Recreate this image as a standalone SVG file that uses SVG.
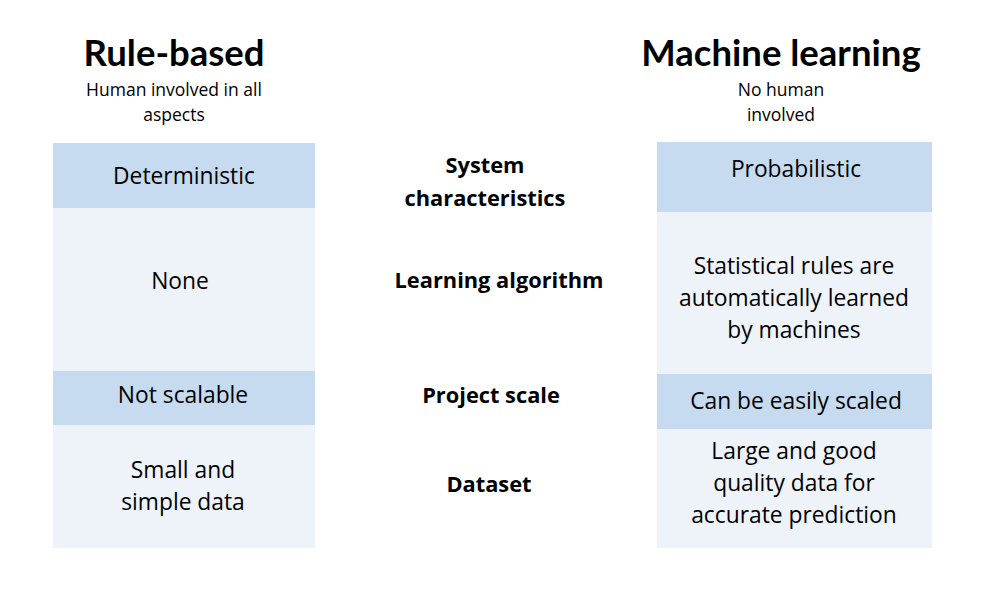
<svg xmlns="http://www.w3.org/2000/svg" width="988" height="598" viewBox="0 0 988 598">
<style>
text{font-family:"Open Sans",Lato,"Liberation Sans",sans-serif;fill:#000;text-anchor:middle}
.h{font-family:Lato,"Open Sans",sans-serif;font-size:36.5px;font-weight:bold}
.s{font-size:17.5px}
.m{font-size:21.8px;font-weight:bold}
.c{font-size:22.8px}
.dk{fill:#c6dbef}
.lt{fill:#eef3fa}
</style>
<rect width="988" height="598" fill="#fff"/>
<g id="header-rule">
<text class="h" x="174" y="66">Rule-based</text>
<text class="s" x="174" y="96">Human involved in all</text>
<text class="s" x="174" y="121">aspects</text>
</g>
<g id="header-ml">
<text class="h" x="781" y="66">Machine learning</text>
<text class="s" x="781" y="96">No human</text>
<text class="s" x="781" y="121">involved</text>
</g>
<g id="labels">
<text class="m" x="485" y="173">System</text>
<text class="m" x="485" y="206">characteristics</text>
<text class="m" x="499" y="288">Learning algorithm</text>
<text class="m" x="491" y="403">Project scale</text>
<text class="m" x="489" y="492">Dataset</text>
</g>
<g id="rule-system">
<rect class="dk" x="53" y="143" width="262" height="65"/>
<text class="c" x="184" y="184">Deterministic</text>
</g>
<g id="rule-learning">
<rect class="lt" x="53" y="208" width="262" height="163"/>
<text class="c" x="180" y="289">None</text>
</g>
<g id="rule-scale">
<rect class="dk" x="53" y="371" width="262" height="54"/>
<text class="c" x="183" y="403">Not scalable</text>
</g>
<g id="rule-dataset">
<rect class="lt" x="53" y="425" width="262" height="123"/>
<text class="c" x="183" y="478">Small and</text>
<text class="c" x="183" y="510">simple data</text>
</g>
<g id="ml-system">
<rect class="dk" x="657" y="142" width="275" height="70"/>
<text class="c" x="796" y="177">Probabilistic</text>
</g>
<g id="ml-learning">
<rect class="lt" x="657" y="212" width="275" height="162"/>
<text class="c" x="794" y="274">Statistical rules are</text>
<text class="c" x="794" y="306">automatically learned</text>
<text class="c" x="794" y="338">by machines</text>
</g>
<g id="ml-scale">
<rect class="dk" x="657" y="374" width="275" height="55"/>
<text class="c" x="796" y="409">Can be easily scaled</text>
</g>
<g id="ml-dataset">
<rect class="lt" x="657" y="429" width="275" height="119"/>
<text class="c" x="794" y="459">Large and good</text>
<text class="c" x="794" y="491">quality data for</text>
<text class="c" x="794" y="523">accurate prediction</text>
</g>
<g id="connectors"></g>
</svg>
